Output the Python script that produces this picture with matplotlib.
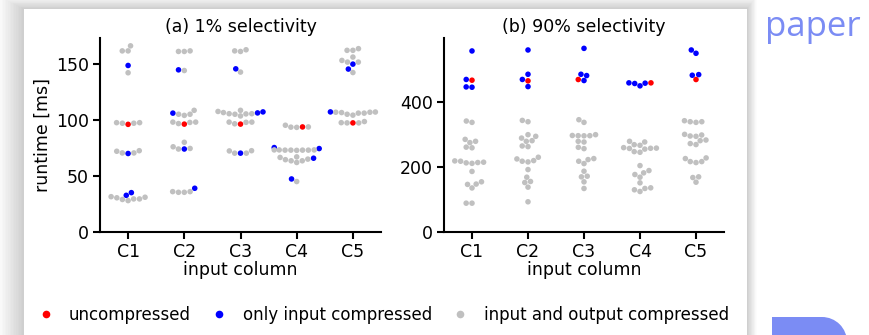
import numpy as np
import pandas as pd
import matplotlib
matplotlib.use('Agg')
import matplotlib.pyplot as plt
import seaborn as sns
from matplotlib.lines import Line2D
from matplotlib.patches import Rectangle, Wedge
from matplotlib.transforms import Affine2D

columns = ['C1', 'C2', 'C3', 'C4', 'C5']
variants = ['uncompressed', 'only input compressed', 'input and output compressed']
colors = ['#ff0000', '#0000ff', '#c0c0c0']

# (a) 1% selectivity, runtime [ms], one list per input column
a_uncompressed = [[96.0], [96.2], [96.2], [93.7], [97.3]]
a_input = [
    [148.5, 70.0, 35.1, 32.7],
    [144.6, 106.0, 74.0, 39.0],
    [145.5, 106.2, 107.1, 70.3],
    [75.3, 74.4, 65.8, 47.3],
    [149.7, 145.3, 107.1],
]
a_both = [
    [166, 161.5, 161.5, 142, 97.5, 97, 97, 97.5, 72, 70.5, 70.5, 72.5,
     31, 30.5, 29.5, 28, 29, 29.5, 31.5],
    [161, 161, 161.5, 144, 108.5, 105, 104, 105, 98, 96.7, 97.7, 98,
     80, 76, 74.5, 74, 35.4, 35.4, 36, 36],
    [161.5, 161, 162.5, 142.6, 108.5, 106.5, 105.5, 105, 107.5, 103.5, 105.3, 105.5,
     98, 96.5, 97.8, 98, 72.3, 70.3, 70.3, 72.5],
    [95.2, 93.5, 93.3, 93.7, 73.2, 73.2, 73, 73, 72.8, 73, 73, 73.2,
     67, 65, 63.5, 62, 63.5, 66.5, 64.5, 45],
    [162, 162, 163.5, 156, 151.5, 153, 151.5, 142.2, 106.8, 106.5, 105, 104.2,
     106, 106, 106.8, 107, 98.5, 97.3, 97.3, 97.5],
]

# (b) 90% selectivity
b_uncompressed = [[468.7], [466.7], [470.8], [460.5], [470.8]]
b_input = [
    [559, 471, 448, 447],
    [562, 487, 471, 449],
    [567, 487, 483, 467.7],
    [460.5, 458.5, 451.3, 459.5],
    [562, 551.8, 486, 484],
]
b_both = [
    [342.6, 338.5, 286, 280, 276, 262, 260, 215.5, 213.5, 212, 214.5, 218.5, 219.5,
     187, 155, 148, 147, 136, 89, 89],
    [344.6, 340.5, 300.5, 295.4, 290, 282, 280, 265.6, 263.6, 225.6, 218.5, 230.8,
     216.4, 220.5, 192.8, 169.2, 156, 152.8, 138.5, 93.3],
    [346.7, 338.5, 300.5, 297.4, 297, 297.4, 298, 280, 277.9, 261.5, 257.4, 218.5,
     223.6, 226.7, 211.3, 187.7, 172.3, 170.3, 154.9, 134.4],
    [280, 277.9, 267.7, 269.7, 258.5, 260.5, 256, 259, 258, 248.2, 246.2, 205,
     177.5, 182.6, 189.7, 169.2, 151.8, 130.3, 125.1, 134.4, 136.4],
    [340.5, 338.5, 340.5, 343.6, 299.5, 295.4, 296.4, 301.5, 284, 282, 273, 270,
     226.7, 217.4, 228.7, 214.4, 217.4, 170.3, 168.2, 153.8],
]


def make_frame(unc, inp, both):
    rows = []
    for name, series in zip(variants, [unc, inp, both]):
        for col, vals in zip(columns, series):
            for v in vals:
                rows.append((col, name, v))
    return pd.DataFrame(rows, columns=['column', 'variant', 'runtime'])


plt.rcParams['font.family'] = 'DejaVu Sans'
fs = 12.5

W, H = 869, 335
fig = plt.figure(figsize=(W / 100, H / 100), dpi=100)
fig.patch.set_facecolor('white')
# image pixel coordinates (origin top-left)
px = Affine2D().scale(1, -1).translate(0, H).scale(1 / W, 1 / H) + fig.transFigure

# slide background: soft drop shadow around the white panel
for i in range(16):
    pad = 16 - i
    fig.add_artist(Rectangle((24 - pad * 1.6, 9 - pad * 0.8), 723 + pad * 2.2, 400,
                             transform=px, facecolor='black', alpha=0.013,
                             edgecolor='none', zorder=-3))
fig.add_artist(Rectangle((24, 9), 723, 400, transform=px, facecolor='white',
                         edgecolor='none', zorder=-2))
fig.add_artist(Rectangle((757, 0), 120, 316, transform=px, facecolor='white',
                         edgecolor='none', zorder=-2.5))

# blue decoration bottom right
fig.add_artist(Rectangle((772, 317), 50, 30, transform=px, facecolor='#7b8cf4',
                         edgecolor='none', zorder=-1))
fig.add_artist(Wedge((822, 342), 25, -90, 0, transform=px, facecolor='#7b8cf4',
                     edgecolor='none', zorder=-1))
fig.text(765 / W, 1 - 36 / H, 'paper', color='#7b8cf4', fontsize=25,
         family=['Open Sans', 'DejaVu Sans'], ha='left', va='baseline')

ax1 = fig.add_axes([100 / W, 1 - 232 / H, 281 / W, 194 / H])
ax2 = fig.add_axes([444 / W, 1 - 232 / H, 280 / W, 194 / H])

panels = [
    (ax1, make_frame(a_uncompressed, a_input, a_both), '(a) 1% selectivity', 173, [0, 50, 100, 150]),
    (ax2, make_frame(b_uncompressed, b_input, b_both), '(b) 90% selectivity', 599, [0, 200, 400]),
]

for ax, df, title, top, ticks in panels:
    ax.set_facecolor('none')
    sns.swarmplot(data=df, x='column', y='runtime', hue='variant', order=columns,
                  hue_order=variants, palette=colors, size=4, ax=ax, legend=False)
    ax.set_xlim(-0.5, 4.5)
    ax.set_ylim(0, top)
    ax.set_yticks(ticks)
    ax.set_title(title, fontsize=fs, pad=4)
    ax.set_xlabel('input column', fontsize=fs, labelpad=0)
    ax.set_ylabel('')
    for s in ['top', 'right']:
        ax.spines[s].set_visible(False)
    for s in ['left', 'bottom']:
        ax.spines[s].set_linewidth(1.5)
    ax.tick_params(width=1.5, length=5, labelsize=fs, pad=3)

ax1.set_ylabel('runtime [ms]', fontsize=fs, labelpad=3)

handles = [Line2D([], [], linestyle='none', marker='o', markersize=5.5,
                  markerfacecolor=c, markeredgecolor='none') for c in colors]
fig.legend(handles, variants, loc='center', bbox_to_anchor=(383 / W, 1 - 315 / H),
           ncol=3, frameon=False, fontsize=12, handlelength=1.0,
           handletextpad=0.9, columnspacing=1.2)

plt.savefig('out.png', dpi=100)
